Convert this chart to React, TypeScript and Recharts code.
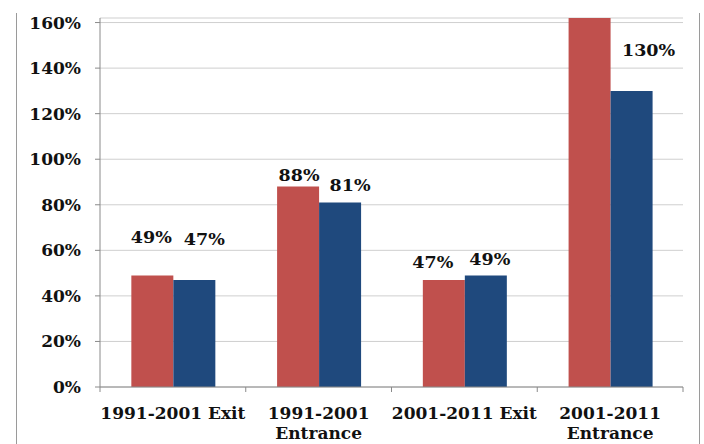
import React from 'react'
import { Bar, BarChart, CartesianGrid, LabelList, XAxis, YAxis } from 'recharts'

const categories = ['1991-2001 Exit', '1991-2001 Entrance', '2001-2011 Exit', '2001-2011 Entrance']
const redValues = [49, 88, 47, 162]
const blueValues = [47, 81, 49, 130]
const yTicks = [0, 20, 40, 60, 80, 100, 120, 140, 160]

// hand-placed label nudges (px above bar top, px sideways); null = no label
const redLift = [38, 12, 18, null]
const redShift = [-1, 1, -11, 0]
const blueLift = [41, 18, 16, 41]
const blueShift = [10, 10, 4, 17]

const W = 704
const H = 444
const LEFT = 100
const RIGHT = 21
const BAND = (W - LEFT - RIGHT) / categories.length
const FONT = '"DejaVu Serif", serif'
const AXIS = '#8a8a8a'

const data = categories.map((name, i) => ({ name, red: redValues[i], blue: blueValues[i] }))

function makeLabel(lift: (number | null)[], shift: number[]) {
  return (props: any) => {
    const { x, y, width, value, index } = props
    const l = lift[index]
    if (l == null) return null
    return (
      <text
        x={Number(x) + Number(width) / 2 + shift[index]}
        y={Number(y) - l}
        textAnchor="middle"
        dominantBaseline="central"
        fontFamily={FONT}
        fontWeight="bold"
        fontSize={17.5}
        fill="#111"
      >
        {value}%
      </text>
    )
  }
}

function CategoryTick(props: any) {
  const { x, y, payload, index } = props
  const text: string = payload.value
  const lines = text.length > 14 ? [text.slice(0, text.lastIndexOf(' ')), text.slice(text.lastIndexOf(' ') + 1)] : [text]
  const last = index === categories.length - 1
  return (
    <g>
      <line x1={x - BAND / 2} x2={x - BAND / 2} y1={y} y2={y + 5} stroke={AXIS} />
      {last && <line x1={x + BAND / 2} x2={x + BAND / 2} y1={y} y2={y + 5} stroke={AXIS} />}
      {lines.map((ln, i) => (
        <text
          key={i}
          x={x}
          y={y + 32 + i * 20}
          textAnchor="middle"
          fontFamily={FONT}
          fontWeight="bold"
          fontSize={17}
          fill="#111"
        >
          {ln}
        </text>
      ))}
    </g>
  )
}

export default function App() {
  return (
    <div style={{ position: 'absolute', left: 0, top: 0, width: W, height: H, background: '#fff', overflow: 'hidden' }}>
      <div style={{ position: 'absolute', left: 16, top: 13, bottom: 0, width: 0, borderLeft: '1.5px solid #9a9a9a' }} />
      <div style={{ position: 'absolute', left: 699, top: 13, bottom: 0, width: 0, borderLeft: '1.5px solid #9a9a9a' }} />
      <BarChart
        width={W}
        height={H}
        data={data}
        margin={{ top: 18, right: RIGHT, bottom: 0, left: 0 }}
        barCategoryGap="21.5%"
        barGap={0}
        style={{ position: 'absolute', left: 0, top: 0 }}
      >
        <CartesianGrid horizontal vertical={false} stroke="#cfcfcf" />
        <XAxis
          dataKey="name"
          height={57}
          axisLine={{ stroke: AXIS }}
          tickLine={false}
          tickSize={0}
          tickMargin={0}
          interval={0}
          tick={<CategoryTick />}
        />
        <YAxis
          width={LEFT}
          domain={[0, 162]}
          ticks={yTicks}
          interval={0}
          tickFormatter={(v) => `${v}%`}
          axisLine={{ stroke: AXIS }}
          tickLine={{ stroke: AXIS }}
          tickSize={5}
          tickMargin={14}
          tick={{ fill: '#111', fontFamily: FONT, fontWeight: 'bold', fontSize: 17 }}
        />
        <Bar dataKey="red" fill="#C0504D" isAnimationActive={false}>
          <LabelList dataKey="red" content={makeLabel(redLift, redShift)} />
        </Bar>
        <Bar dataKey="blue" fill="#1F497D" isAnimationActive={false}>
          <LabelList dataKey="blue" content={makeLabel(blueLift, blueShift)} />
        </Bar>
      </BarChart>
    </div>
  )
}
